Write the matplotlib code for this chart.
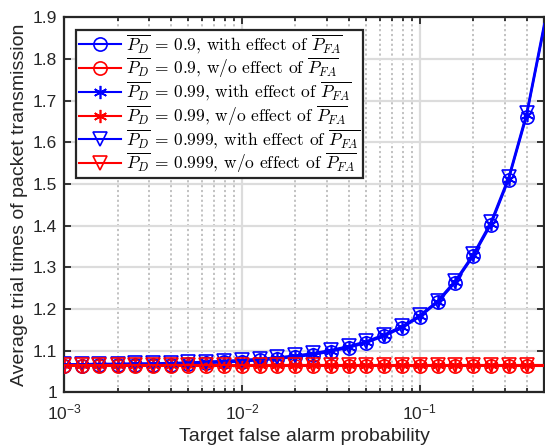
import matplotlib
matplotlib.use('Agg')
import matplotlib.pyplot as plt
from matplotlib.ticker import FixedLocator, FuncFormatter

plt.rcParams['font.family'] = ['Liberation Sans', 'DejaVu Sans']
plt.rcParams['mathtext.fontset'] = 'cm'

# probabilidade alvo de falso alarme (ultimo ponto so tem linha, sem marcador)
pfa = [0.001, 0.00126, 0.00158, 0.002, 0.00251, 0.00316, 0.00398, 0.00501,
       0.00631, 0.00794, 0.01, 0.0126, 0.0158, 0.02, 0.0251, 0.0316, 0.0398,
       0.0501, 0.0631, 0.0794, 0.1, 0.126, 0.158, 0.2, 0.251, 0.316, 0.398, 0.5]

# com efeito de P_FA
com_09 = [1.064, 1.064, 1.065, 1.065, 1.066, 1.066, 1.067, 1.068, 1.070, 1.072,
          1.074, 1.077, 1.080, 1.085, 1.090, 1.098, 1.107, 1.119, 1.135, 1.155,
          1.181, 1.216, 1.263, 1.327, 1.402, 1.510, 1.661, 1.873]
com_099 = [1.066, 1.066, 1.067, 1.067, 1.068, 1.068, 1.069, 1.070, 1.072, 1.074,
           1.076, 1.079, 1.082, 1.087, 1.092, 1.100, 1.109, 1.121, 1.137, 1.157,
           1.183, 1.218, 1.265, 1.329, 1.405, 1.513, 1.665, 1.878]
com_0999 = [1.068, 1.068, 1.069, 1.069, 1.070, 1.070, 1.071, 1.072, 1.074, 1.076,
            1.078, 1.081, 1.084, 1.089, 1.094, 1.102, 1.111, 1.123, 1.139, 1.159,
            1.185, 1.220, 1.268, 1.332, 1.409, 1.517, 1.670, 1.884]

# sem efeito de P_FA
sem_09 = [1.063, 1.063, 1.063, 1.063, 1.063, 1.063, 1.063, 1.063, 1.063, 1.063,
          1.063, 1.063, 1.063, 1.063, 1.063, 1.063, 1.063, 1.063, 1.063, 1.063,
          1.063, 1.063, 1.063, 1.063, 1.063, 1.063, 1.063, 1.063]
sem_099 = [1.065, 1.065, 1.065, 1.065, 1.065, 1.065, 1.065, 1.065, 1.065, 1.065,
           1.065, 1.065, 1.065, 1.065, 1.065, 1.065, 1.065, 1.065, 1.065, 1.065,
           1.065, 1.065, 1.065, 1.065, 1.065, 1.065, 1.065, 1.065]
sem_0999 = [1.067, 1.067, 1.067, 1.067, 1.067, 1.067, 1.067, 1.067, 1.067, 1.067,
            1.067, 1.067, 1.067, 1.067, 1.067, 1.067, 1.067, 1.067, 1.067, 1.067,
            1.067, 1.067, 1.067, 1.067, 1.067, 1.067, 1.067, 1.067]

pd_labels = ['0.9', '0.99', '0.999']
y_ticks = [1.0, 1.1, 1.2, 1.3, 1.4, 1.5, 1.6, 1.7, 1.8, 1.9]

escuro = '#262626'

fig = plt.figure(figsize=(5.45, 4.48), dpi=100)
ax = fig.add_axes([0.1174, 0.124, 0.881, 0.8375])

series = [
    (com_09, 'blue', 'o', pd_labels[0], 'with effect of'),
    (sem_09, 'red', 'o', pd_labels[0], 'w/o effect of'),
    (com_099, 'blue', (6, 2, 0), pd_labels[1], 'with effect of'),
    (sem_099, 'red', (6, 2, 0), pd_labels[1], 'w/o effect of'),
    (com_0999, 'blue', 'v', pd_labels[2], 'with effect of'),
    (sem_0999, 'red', 'v', pd_labels[2], 'w/o effect of'),
]

for valores, cor, marcador, pd, texto in series:
    rotulo = r'$\overline{P_D}$ = ' + pd + ', ' + texto + r' $\overline{P_{FA}}$'
    ax.plot(pfa, valores, color=cor, marker=marcador, markersize=9.5,
            markerfacecolor='none', markeredgecolor=cor, markeredgewidth=1.2,
            linewidth=1.5, markevery=slice(0, 27), label=rotulo, zorder=3)

ax.set_xscale('log')
ax.set_xlim(0.001, 0.5)
ax.set_ylim(1.0, 1.9)
ax.yaxis.set_major_locator(FixedLocator(y_ticks))
ax.yaxis.set_major_formatter(FuncFormatter(lambda v, p: '%g' % round(v, 2)))

ax.grid(True, which='major', color='#dcdcdc', linewidth=1.6, linestyle='-', zorder=0)
ax.grid(True, which='minor', axis='x', color='#bdbdbd', linewidth=1.3, linestyle=(0, (1.2, 1.5)), zorder=0)
ax.set_axisbelow(True)

ax.tick_params(which='both', direction='in', top=True, right=True,
               colors=escuro, labelsize=12.5, width=1.3)
ax.tick_params(which='major', length=5)
ax.tick_params(which='minor', length=3)
ax.tick_params(axis='x', pad=7)
ax.tick_params(axis='y', pad=5)
for s in ax.spines.values():
    s.set_linewidth(1.6)
    s.set_color(escuro)

ax.set_xlabel('Target false alarm probability', fontsize=14, color=escuro, labelpad=4)
ax.set_ylabel('Average trial times of packet transmission', fontsize=14, color=escuro, labelpad=3)

leg = ax.legend(loc='upper left', bbox_to_anchor=(0.025, 0.966), prop={'family': 'cmr10', 'size': 12.5},
                frameon=True, fancybox=False, framealpha=1, edgecolor=escuro,
                handlelength=2.45, handletextpad=0.3, labelspacing=0.0, borderpad=0.15,
                borderaxespad=0.0)
leg.get_frame().set_linewidth(1.6)

fig.savefig('out.png', dpi=100)
